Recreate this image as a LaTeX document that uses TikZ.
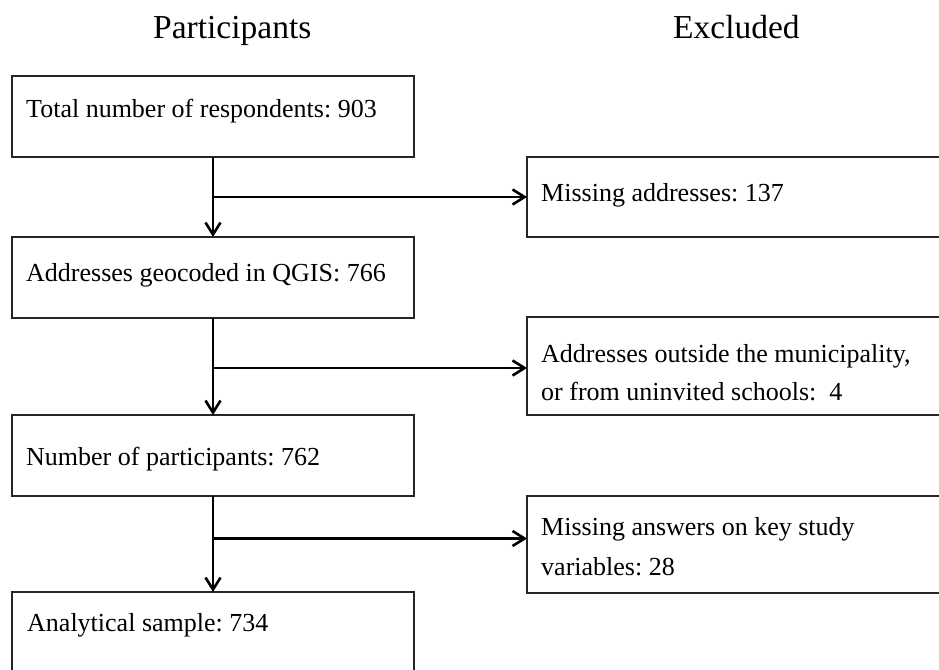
\documentclass[tikz,border=0pt]{standalone}
\usepackage{fontspec}
\setmainfont{Liberation Serif}
\usetikzlibrary{arrows.meta,calc}
\frenchspacing
\begin{document}
\begin{tikzpicture}[x=1pt,y=-1pt,
  box/.style={draw=black!85, line width=1.2pt, rectangle, inner sep=0pt, outer sep=0pt, anchor=north west},
  txt/.style={anchor=base west, inner sep=0pt, font=\fontsize{26}{38}\selectfont},
  ttl/.style={anchor=base west, inner sep=0pt, font=\fontsize{33.5}{40}\selectfont},
  arr/.style={line width=2.8pt, -{Straight Barb[length=12pt,width=15pt,line width=2.6pt]}}]
\useasboundingbox (0,0) rectangle (939,669);
\clip (0,0) rectangle (939,669);
% titles
\node[ttl] (hp) at (153,38) {Participants};
\node[ttl] (he) at (673,38) {Excluded};
% left boxes
\node[box, minimum width=402pt, minimum height=81pt] (b1) at (12,76) {};
\node[box, minimum width=402pt, minimum height=81pt] (b2) at (12,237) {};
\node[box, minimum width=402pt, minimum height=81pt] (b3) at (12,415) {};
\node[box, minimum width=402pt, minimum height=95pt] (b4) at (12,592) {};
% right boxes
\node[box, minimum width=425pt, minimum height=80pt] (e1) at (527,157) {};
\node[box, minimum width=425pt, minimum height=98pt] (e2) at (527,317) {};
\node[box, minimum width=425pt, minimum height=97pt] (e3) at (527,496) {};
% texts
\node[txt] (t1) at (26,117) {Total number of respondents: 903};
\node[txt] (t2) at (26,281) {Addresses geocoded in QGIS: 766};
\node[txt] (t3) at (26,465) {Number of participants: 762};
\node[txt] (t4) at (27,631) {Analytical sample: 734};
\node[txt] (s1) at (541,201) {Missing addresses: 137};
\node[txt] (s2a) at (541,362) {Addresses outside the municipality,};
\node[txt] (s2b) at (541,400) {or from uninvited schools:\ \ 4};
\node[txt] (s3a) at (541,535) {Missing answers on key study};
\node[txt] (s3b) at (541,575) {variables: 28};
% connectors
\draw[arr] (b1.south) -- (b2.north);
\draw[arr] (b1.south |- e1.west) -- (e1.west);
\draw[arr] (b2.south) -- (b3.north);
\draw[arr] ($(b2.south |- e2.west)+(0,2)$) -- ($(e2.west)+(0,2)$);
\draw[arr] (b3.south) -- (b4.north);
\draw[arr] ($(b3.south |- e3.west)+(0,-6)$) -- ($(e3.west)+(0,-6)$);
\end{tikzpicture}
\end{document}
